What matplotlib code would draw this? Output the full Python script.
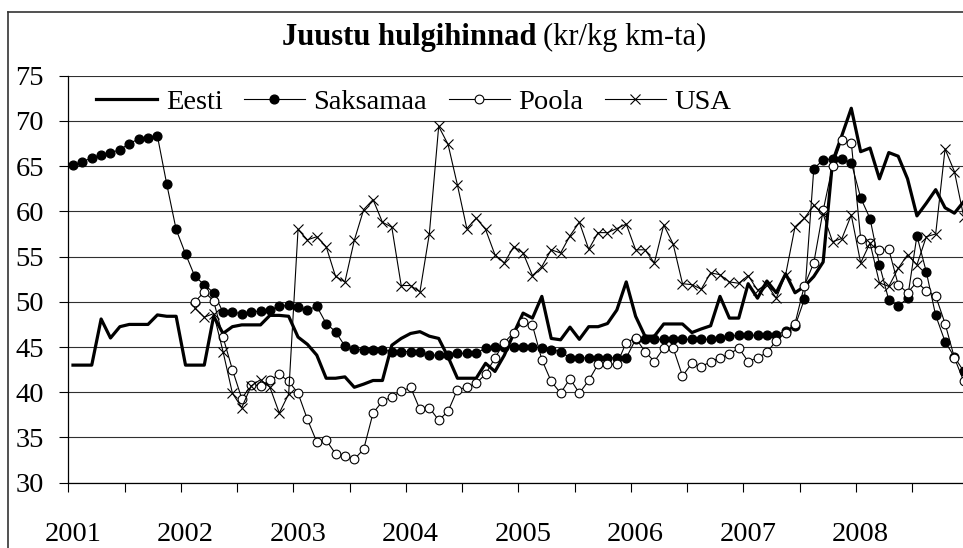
import numpy as np
import matplotlib
matplotlib.use("Agg")
import matplotlib.pyplot as plt
from matplotlib.lines import Line2D

plt.rcParams['font.family'] = ['Liberation Serif', 'DejaVu Serif']

nan = np.nan
years = ["2001", "2002", "2003", "2004", "2005", "2006", "2007", "2008"]

# monthly prices Jan 2001 .. Dec 2008 (kr/kg)
eesti = [43.0, 43.0, 43.0, 48.1, 46.0, 47.25, 47.5, 47.5, 47.5, 48.55, 48.4, 48.4,
         43.0, 43.0, 43.0, 48.4, 46.5, 47.25, 47.45, 47.45, 47.45, 48.5, 48.5, 48.4,
         46.1, 45.3, 44.1, 41.55, 41.55, 41.7, 40.55, 40.9, 41.3, 41.3, 45.2, 45.95,
         46.5, 46.7, 46.2, 45.95, 43.9, 41.55, 41.55, 41.55, 43.2, 42.3, 44.1, 46.5,
         48.75, 48.2, 50.6, 45.95, 45.8, 47.2, 45.85, 47.25, 47.25, 47.6, 49.1, 52.2,
         48.4, 46.2, 46.2, 47.55, 47.55, 47.55, 46.6, 47.0, 47.35, 50.6, 48.2, 48.2,
         52.0, 50.4, 52.3, 51.0, 53.1, 51.0, 51.7, 52.8, 54.4, 65.5, 68.4, 71.4,
         66.6, 67.0, 63.6, 66.5, 66.1, 63.6, 59.5, 60.9, 62.4, 60.4, 59.8, 61.1]

saksamaa = [65.1, 65.5, 65.9, 66.25, 66.5, 66.8, 67.5, 68.0, 68.1, 68.35, 63.0, 58.0,
            55.3, 52.8, 51.9, 51.0, 48.85, 48.85, 48.7, 48.85, 49.0, 49.1, 49.5, 49.6,
            49.4, 49.1, 49.5, 47.6, 46.7, 45.1, 44.75, 44.7, 44.7, 44.7, 44.5, 44.5,
            44.5, 44.5, 44.1, 44.1, 44.1, 44.3, 44.3, 44.3, 44.9, 45.05, 45.05, 45.05,
            45.05, 45.05, 44.9, 44.7, 44.5, 43.8, 43.8, 43.8, 43.8, 43.8, 43.8, 43.8,
            45.85, 45.85, 45.85, 45.85, 45.85, 45.85, 45.85, 45.85, 45.85, 45.95, 46.2, 46.3,
            46.3, 46.3, 46.3, 46.3, 46.8, 47.3, 50.3, 64.7, 65.7, 65.8, 65.8, 65.4,
            61.5, 59.2, 54.1, 50.2, 49.5, 50.4, 57.3, 53.3, 48.5, 45.6, 43.9, 42.3]

poola = [nan] * 13 + [
            50.0, 51.1, 50.1, 46.1, 42.5, 39.3, 40.8, 40.7, 41.3, 42.0, 41.2,
            39.9, 37.0, 34.5, 34.7, 33.2, 33.0, 32.6, 33.7, 37.7, 39.0, 39.5, 40.1,
            40.55, 38.1, 38.3, 36.9, 37.9, 40.3, 40.55, 41.0, 42.0, 43.8, 45.5, 46.6,
            47.8, 47.4, 43.6, 41.2, 39.9, 41.5, 39.9, 41.3, 43.1, 43.1, 43.1, 45.5,
            46.0, 44.5, 43.4, 44.9, 44.9, 41.8, 43.2, 42.8, 43.4, 43.8, 44.2, 44.9,
            43.4, 43.8, 44.4, 45.7, 46.6, 47.6, 51.8, 54.3, 60.1, 65.0, 67.9, 67.6,
            57.0, 56.5, 55.7, 55.8, 51.9, 51.0, 52.2, 51.2, 50.65, 47.6, 43.8, 41.2]

usa = [nan] * 13 + [
            49.3, 48.3, 48.7, 44.5, 39.9, 38.3, 40.7, 41.4, 40.55, 37.7, 39.8,
            58.0, 56.85, 57.2, 56.1, 52.8, 52.2, 56.8, 60.2, 61.3, 58.8, 58.25, 51.8,
            51.8, 51.1, 57.5, 69.4, 67.4, 62.9, 58.1, 59.25, 58.0, 55.2, 54.3, 56.1,
            55.4, 52.9, 53.9, 55.75, 55.4, 57.3, 58.8, 55.8, 57.65, 57.65, 58.1, 58.6,
            55.75, 55.75, 54.3, 58.5, 56.4, 52.0, 51.9, 51.4, 53.2, 53.0, 52.2, 52.05,
            52.9, 51.3, 51.9, 50.4, 53.0, 58.3, 59.25, 60.65, 59.7, 56.65, 57.0, 59.6,
            54.3, 56.5, 52.1, 51.7, 53.7, 55.2, 54.1, 57.2, 57.5, 66.9, 64.4, 59.35]

months = np.arange(len(eesti))
W, H = 963, 548

fig = plt.figure(figsize=(W / 100, H / 100), dpi=100)
# plot area runs a little past the right edge of the picture
ax = fig.add_axes([68.3 / W, (H - 482.7) / H, 900.2 / W, 407.0 / H])

ax.plot(months, eesti, color='black', lw=2.3, label="Eesti", zorder=3)
ax.plot(months, saksamaa, color='black', lw=0.8, marker='o', ms=6.3,
        mfc='black', mec='black', label="Saksamaa", zorder=4)
ax.plot(months, poola, color='black', lw=0.8, marker='o', ms=6.3,
        mfc='white', mec='black', mew=0.8, label="Poola", zorder=5)
ax.plot(months, usa, color='black', lw=0.8, marker='x', ms=7.5,
        mew=0.8, label="USA", zorder=6)

ax.set_xlim(-0.5, len(eesti) - 0.5)
ax.set_ylim(30, 75)
ax.set_yticks(np.arange(30, 76, 5))
ax.yaxis.grid(True, color='#303030', lw=0.8)
ax.set_axisbelow(True)

ax.set_xticks(np.arange(-0.5, len(eesti), 6))
ax.set_xticklabels([])
ax.set_xticks(np.arange(0, len(eesti), 12), minor=True)
ax.set_xticklabels(years, minor=True)
ax.tick_params(axis='x', which='major', direction='out', length=6.5, width=0.8)
ax.tick_params(axis='x', which='minor', length=0, pad=28, labelsize=20.5)
ax.tick_params(axis='y', direction='out', length=6.5, width=0.8, pad=11, labelsize=20.5)

for s in ['top', 'right']:
    ax.spines[s].set_visible(False)
for s in ['left', 'bottom']:
    ax.spines[s].set_linewidth(0.9)

ax.legend(loc='center left', bbox_to_anchor=(96 / W, 1 - 102 / H),
          bbox_transform=fig.transFigure, ncol=4, frameon=False,
          fontsize=20.5, handlelength=2.15, handletextpad=0.3,
          columnspacing=0.75, borderpad=0, borderaxespad=0)

# title: bold part + normal part, centred on the chart area
t1 = fig.text(0, 1 - 45 / H, "Juustu hulgihinnad", fontsize=22,
              fontweight='bold', va='baseline')
t2 = fig.text(0, 1 - 45 / H, "(kr/kg km-ta)", fontsize=22, va='baseline')
r = fig.canvas.get_renderer()
w1 = t1.get_window_extent(r).width
w2 = t2.get_window_extent(r).width
gap = 7
x0 = 494 - (w1 + gap + w2) / 2
t1.set_x(x0 / W)
t2.set_x((x0 + w1 + gap) / W)

# outer chart frame (only left and top edges are inside the picture)
fig.add_artist(Line2D([8 / W, 8 / W], [0, 1 - 12 / H], color='#333333', lw=1.2))
fig.add_artist(Line2D([8 / W, 1], [1 - 12 / H, 1 - 12 / H], color='#333333', lw=1.2))

fig.savefig("out.png", dpi=100)
